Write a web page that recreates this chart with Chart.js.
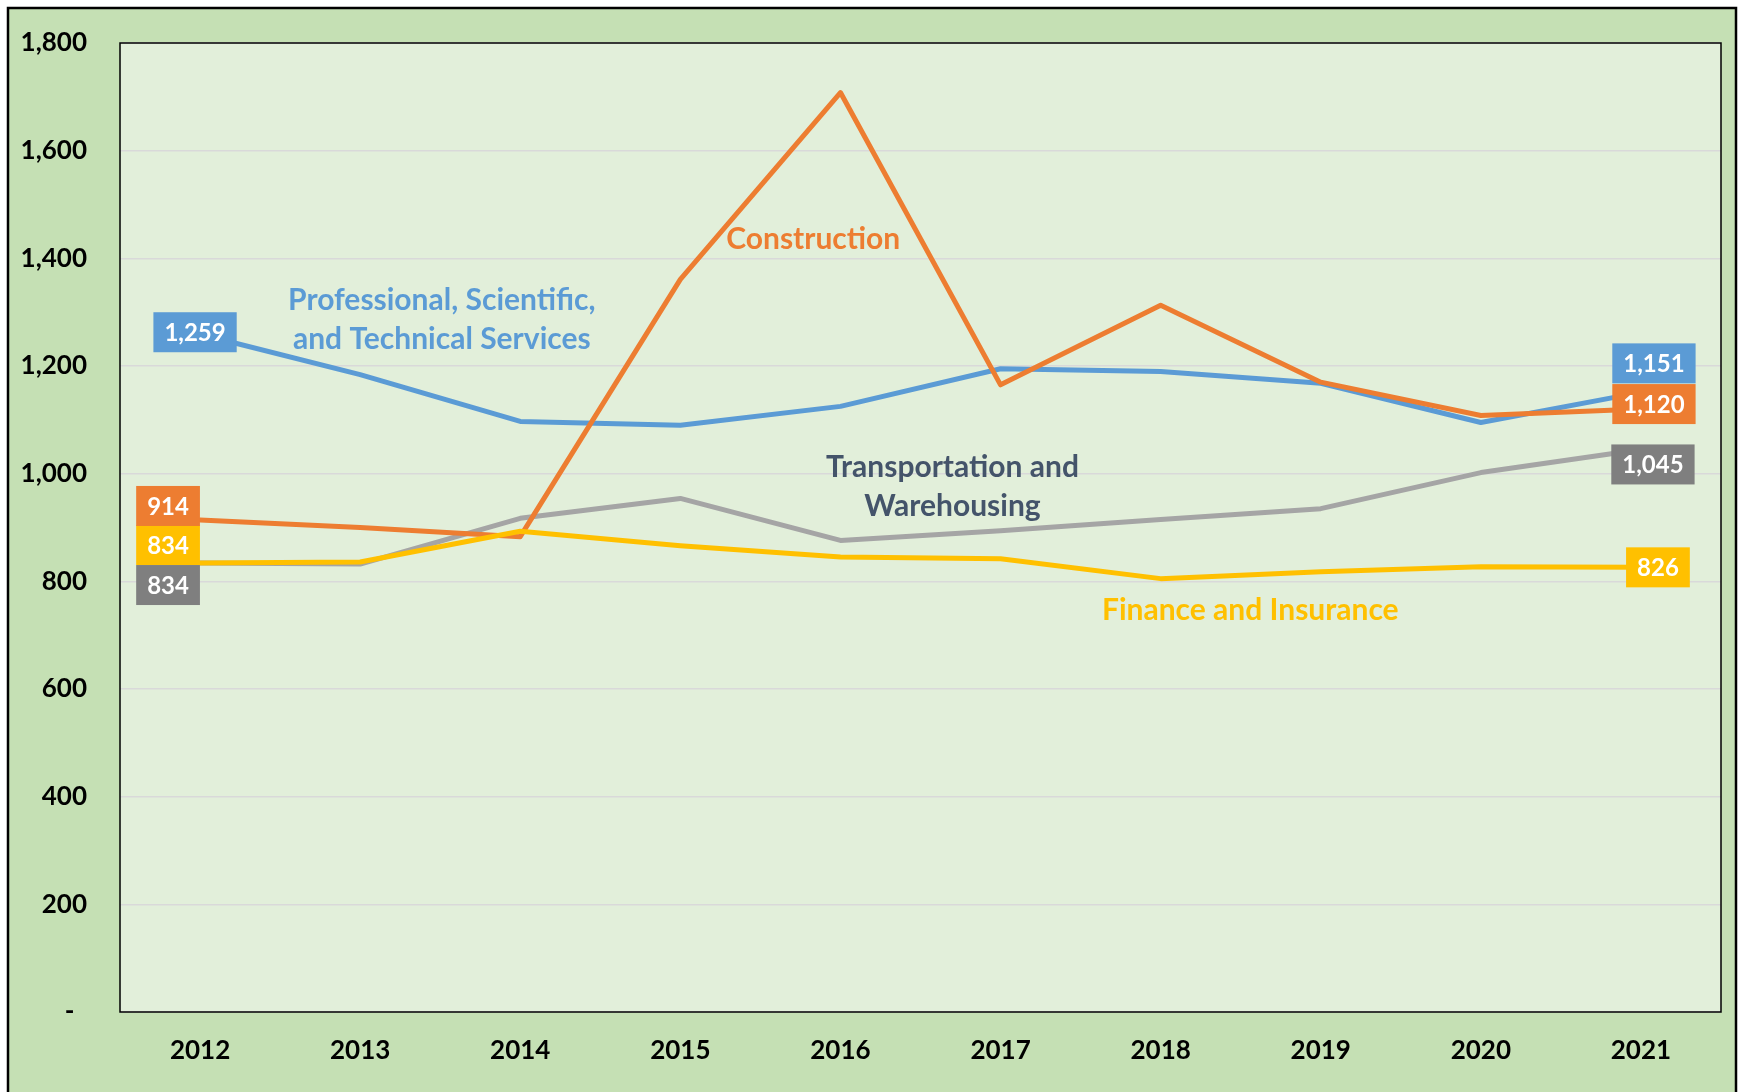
<!DOCTYPE html>
<html>
<head>
<meta charset="utf-8">
<script src="https://cdn.jsdelivr.net/npm/chart.js@4.4.1/dist/chart.umd.min.js"></script>
<style>
  html, body { margin: 0; padding: 0; background: #ffffff; }
  canvas { display: block; }
</style>
</head>
<body>
<canvas id="chart" width="1741" height="1092"></canvas>
<script>
// chart data
const years = ['2012', '2013', '2014', '2015', '2016', '2017', '2018', '2019', '2020', '2021'];
const professional = [1259, 1184, 1097, 1090, 1125, 1195, 1190, 1168, 1095, 1151];
const construction = [914, 900, 883, 1361, 1708, 1165, 1313, 1170, 1108, 1120];
const transportation = [834, 832, 917, 954, 876, 894, 915, 935, 1002, 1045];
const finance = [834, 836, 893, 866, 845, 842, 805, 818, 827, 826];
const yTicks = [0, 200, 400, 600, 800, 1000, 1200, 1400, 1600, 1800];

const FONT = 'Lato, "Open Sans", sans-serif';
const BLUE = '#5b9bd5';
const ORANGE = '#ed7d31';
const GRAY = '#a5a5a5';
const YELLOW = '#ffc000';

// value boxes at the first and last point, nudged like in the original
const endLabels = {
    finance: { bg: YELLOW, first: [-32, -18], last: [17, 0] },
    construction: { bg: ORANGE, first: [-32, -14], last: [13, -5] },
    transportation: { bg: '#7f7f7f', first: [-32, 22], last: [12, 15] },
    professional: { bg: BLUE, first: [-5, -2], last: [13, -29] },
};

// series names written inside the plot (x = category index, y = value)
const seriesNotes = [
    { lines: ['Professional, Scientific,', 'and Technical Services'], x: 1.51, y: 1286, color: BLUE },
    { lines: ['Construction'], x: 3.83, y: 1435, color: ORANGE },
    { lines: ['Transportation and', 'Warehousing'], x: 4.70, y: 975, color: '#44546a' },
    { lines: ['Finance and Insurance'], x: 6.56, y: 746, color: YELLOW },
];

const backgroundPlugin = {
    id: 'backgrounds',
    beforeDraw(chart) {
        const { ctx, chartArea: a, width, height } = chart;
        ctx.save();
        ctx.fillStyle = '#ffffff';
        ctx.fillRect(0, 0, width, height);
        ctx.fillStyle = '#c5e0b4';
        ctx.fillRect(8, 8, width - 13, height);
        ctx.strokeStyle = '#000000';
        ctx.lineWidth = 2.5;
        ctx.strokeRect(8, 8, width - 13, height + 10);
        ctx.fillStyle = '#e2efda';
        ctx.fillRect(a.left, a.top, a.right - a.left, a.bottom - a.top);
        ctx.restore();
    },
    beforeDatasetsDraw(chart) {
        const { ctx, chartArea: a } = chart;
        ctx.save();
        ctx.strokeStyle = '#000000';
        ctx.lineWidth = 1.5;
        ctx.strokeRect(a.left, a.top, a.right - a.left, a.bottom - a.top);
        ctx.restore();
    },
};

const labelPlugin = {
    id: 'endLabels',
    afterDatasetsDraw(chart) {
        const { ctx, scales } = chart;
        ctx.save();
        ctx.textAlign = 'center';
        ctx.textBaseline = 'middle';

        seriesNotes.forEach((note) => {
            ctx.font = 'bold 30px ' + FONT;
            ctx.fillStyle = note.color;
            const cx = scales.x.getPixelForValue(note.x);
            const cy = scales.y.getPixelForValue(note.y);
            const lh = 39;
            const y0 = cy - (note.lines.length - 1) * lh / 2;
            note.lines.forEach((line, i) => ctx.fillText(line, cx, y0 + i * lh));
        });

        ctx.font = 'bold 24px ' + FONT;
        chart.data.datasets.forEach((ds, di) => {
            const cfg = endLabels[ds.key];
            const meta = chart.getDatasetMeta(di);
            [0, ds.data.length - 1].forEach((idx) => {
                const pt = meta.data[idx];
                const off = idx === 0 ? cfg.first : cfg.last;
                const text = ds.data[idx].toLocaleString('en-US');
                const w = ctx.measureText(text).width + 22;
                const h = 40;
                const cx = pt.x + off[0];
                const cy = pt.y + off[1];
                ctx.fillStyle = cfg.bg;
                ctx.fillRect(cx - w / 2, cy - h / 2, w, h);
                ctx.fillStyle = '#ffffff';
                ctx.fillText(text, cx, cy + 1);
            });
        });
        ctx.restore();
    },
};

const lineStyle = {
    borderWidth: 5,
    pointRadius: 0,
    tension: 0,
    borderJoinStyle: 'round',
    borderCapStyle: 'round',
    fill: false,
};

new Chart(document.getElementById('chart'), {
    type: 'line',
    data: {
        labels: years,
        datasets: [
            { key: 'finance', label: 'Finance and Insurance', data: finance, borderColor: YELLOW, ...lineStyle },
            { key: 'construction', label: 'Construction', data: construction, borderColor: ORANGE, ...lineStyle },
            { key: 'transportation', label: 'Transportation and Warehousing', data: transportation, borderColor: GRAY, ...lineStyle },
            { key: 'professional', label: 'Professional, Scientific, and Technical Services', data: professional, borderColor: BLUE, ...lineStyle },
        ],
    },
    options: {
        responsive: false,
        animation: false,
        layout: {
            padding: { left: 9, top: 43, right: 20, bottom: 0 },
        },
        plugins: {
            legend: { display: false },
            tooltip: { enabled: false },
        },
        scales: {
            x: {
                offset: true,
                grid: { display: false },
                border: { display: false },
                ticks: {
                    color: '#000000',
                    font: { family: FONT, size: 26, weight: 'bold' },
                    padding: 15,
                    maxRotation: 0,
                },
                afterFit: (scale) => { scale.height = 80; },
            },
            y: {
                min: 0,
                max: 1800,
                afterBuildTicks: (scale) => { scale.ticks = yTicks.map((v) => ({ value: v })); },
                grid: { color: '#d9d9d9', lineWidth: 1.5, drawTicks: false },
                border: { display: false },
                ticks: {
                    color: '#000000',
                    font: { family: FONT, size: 26, weight: 'bold' },
                    padding: 33,
                    callback: (v) => (v === 0 ? '-  ' : v.toLocaleString('en-US')),
                },
                afterFit: (scale) => {
                    scale.width = 111;
                    // tick padding should not push the plot down
                    scale.paddingTop = 0;
                    scale.paddingBottom = 0;
                },
            },
        },
    },
    plugins: [backgroundPlugin, labelPlugin],
});
</script>
</body>
</html>
